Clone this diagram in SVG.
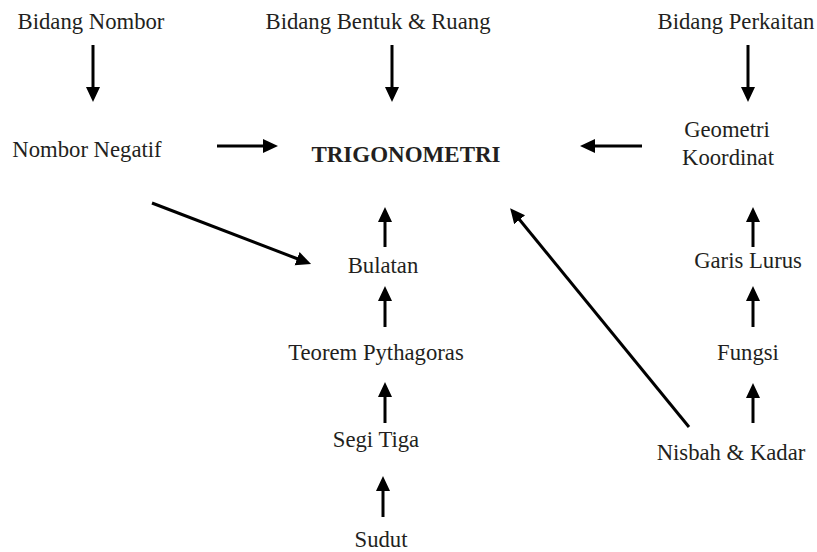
<svg xmlns="http://www.w3.org/2000/svg" width="817" height="552" viewBox="0 0 817 552">
<defs>
<marker id="ah" markerUnits="userSpaceOnUse" markerWidth="16" markerHeight="16" refX="1" refY="7" orient="auto">
<path d="M0,0 L15,7 L0,14 z" fill="#000"/>
</marker>
<style>
text{font-family:"Liberation Serif","Times New Roman",serif;font-size:22.7px;fill:#231f20;text-anchor:middle}
.b{font-weight:bold;font-size:23px}
.c line{stroke:#000;stroke-width:3;marker-end:url(#ah)}
</style>
</defs>
<rect width="817" height="552" fill="#fff"/>
<g id="n-bidang-nombor"><text x="91" y="29">Bidang Nombor</text></g>
<g id="n-bidang-bentuk"><text x="378" y="29">Bidang Bentuk &amp; Ruang</text></g>
<g id="n-bidang-perkaitan"><text x="736" y="29">Bidang Perkaitan</text></g>
<g id="n-nombor-negatif"><text x="87" y="157">Nombor Negatif</text></g>
<g id="n-trigonometri"><text class="b" x="406" y="162">TRIGONOMETRI</text></g>
<g id="n-geometri-koordinat"><text x="727" y="137">Geometri</text><text x="728" y="165">Koordinat</text></g>
<g id="n-bulatan"><text x="383" y="273">Bulatan</text></g>
<g id="n-teorem"><text x="376" y="360">Teorem Pythagoras</text></g>
<g id="n-segi-tiga"><text x="376" y="447">Segi Tiga</text></g>
<g id="n-sudut"><text x="381" y="547">Sudut</text></g>
<g id="n-garis-lurus"><text x="748" y="268">Garis Lurus</text></g>
<g id="n-fungsi"><text x="748" y="360">Fungsi</text></g>
<g id="n-nisbah"><text x="731" y="460">Nisbah &amp; Kadar</text></g>
<g id="connectors" class="c">
<line x1="93" y1="45" x2="93" y2="88"/>
<line x1="392" y1="45" x2="392" y2="88"/>
<line x1="748" y1="45" x2="748" y2="88"/>
<line x1="217" y1="146" x2="264" y2="146"/>
<line x1="642" y1="146" x2="594" y2="146"/>
<line x1="152" y1="203" x2="298" y2="259"/>
<line x1="385" y1="247" x2="385" y2="221"/>
<line x1="385" y1="327" x2="385" y2="300"/>
<line x1="385" y1="423" x2="385" y2="396"/>
<line x1="383" y1="517" x2="383" y2="490"/>
<line x1="689" y1="427" x2="519" y2="219"/>
<line x1="753" y1="247" x2="753" y2="221"/>
<line x1="753" y1="327" x2="753" y2="300"/>
<line x1="753" y1="423" x2="753" y2="397"/>
</g>
</svg>
